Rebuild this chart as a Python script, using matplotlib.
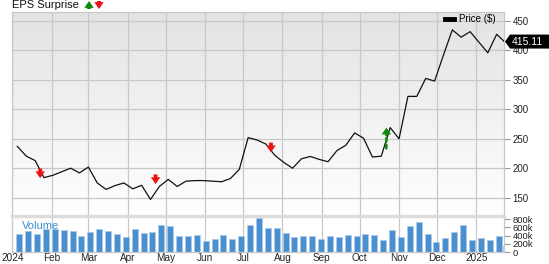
import matplotlib
matplotlib.use("Agg")
import matplotlib.pyplot as plt
import numpy as np
import pandas as pd
from matplotlib.lines import Line2D
from matplotlib.patches import Polygon
from matplotlib.colors import LinearSegmentedColormap

plt.rcParams["font.family"] = ["Liberation Sans", "DejaVu Sans"]

# ----- DATA -----
week_dates = list(pd.date_range("2024-01-05", periods=55, freq="7D")) + [pd.Timestamp("2025-01-23")]

price = [237, 220.5, 213, 184, 188, 194, 200, 192, 202, 175,
         164, 170.5, 175, 165, 171, 147, 169, 181, 169, 178,
         179, 179, 178, 177, 182.5, 198, 252, 248, 241, 222,
         210, 200, 216, 220, 215, 211, 230, 239, 260, 251,
         219, 220.5, 269, 250, 322, 322, 352.5, 348, 392, 435,
         422.5, 432, 414, 396, 427.5, 415.11]

volume_k = [438, 503, 438, 562, 550, 545, 503, 379, 495, 562,
            512, 430, 355, 553, 470, 479, 660, 635, 388, 388,
            413, 264, 314, 413, 314, 388, 660, 825, 594, 577,
            462, 371, 388, 388, 313, 388, 363, 404, 388, 437,
            421, 297, 545, 371, 627, 734, 437, 255, 346, 479,
            652, 297, 346, 297, 396, 148]

eps_dates = pd.to_datetime(["2024-01-23", "2024-04-23", "2024-07-23", "2024-10-22"])
eps_beat = [False, False, False, True]
eps_level = [183, 173, 227, 269]

month_ticks = pd.date_range("2024-01-01", "2025-01-01", freq="MS")
month_labels = ["2024", "Feb", "Mar", "Apr", "May", "Jun", "Jul",
                "Aug", "Sep", "Oct", "Nov", "Dec", "2025"]
price_ticks = [150, 200, 250, 300, 350, 400, 450]
vol_ticks = [0, 200, 400, 600, 800]
vol_labels = ["0", "200k", "400k", "600k", "800k"]
last_price = 415.11

# ----- FIGURE -----
W, H = 549, 264
fig = plt.figure(figsize=(W / 100, H / 100), dpi=100)
ax = fig.add_axes([12.3 / W, 1 - 215.5 / H, 492 / W, 203.2 / H])
axv = fig.add_axes([12.3 / W, 1 - 252 / H, 492 / W, 36.5 / H])

grid_c = "#c8c8c8"
xmin, xmax = pd.Timestamp("2024-01-01"), pd.Timestamp("2025-01-23")
arrow_style = "simple,head_length=0.55,head_width=0.75,tail_width=0.3"

# gradient background for the price panel
cmap = LinearSegmentedColormap.from_list("bg", ["#e3e3e3", "#ffffff"])
ax.imshow(np.linspace(0, 1, 256).reshape(-1, 1), cmap=cmap, extent=[0, 1, 0, 1],
          transform=ax.transAxes, aspect="auto", zorder=0)

ax.plot(week_dates, price, color="#111111", lw=0.9, zorder=3)

# eps surprise arrows
for d, beat, lvl in zip(eps_dates, eps_beat, eps_level):
    if beat:
        ax.annotate("", xy=(d, lvl), xytext=(0, -5), textcoords="offset points",
                    arrowprops=dict(arrowstyle=arrow_style, fc="#0a8a0a", ec="none",
                                    shrinkA=0, shrinkB=0, mutation_scale=9),
                    zorder=4)
        ax.annotate("", xy=(d, lvl), xytext=(0, -15), textcoords="offset points",
                    arrowprops=dict(arrowstyle="-", color="#0a8a0a", lw=1.8, ls=(0, (1.5, 1.2)),
                                    shrinkA=0, shrinkB=4), zorder=4)
    else:
        ax.annotate("", xy=(d, lvl), xytext=(0, 7), textcoords="offset points",
                    arrowprops=dict(arrowstyle=arrow_style, fc="#ee1111", ec="none",
                                    shrinkA=0, shrinkB=0, mutation_scale=9),
                    zorder=4)

ax.set_xlim(xmin, xmax)
ax.set_ylim(119.7, 464.8)
ax.set_xticks(month_ticks)
ax.set_yticks(price_ticks)
ax.grid(color=grid_c, lw=0.9)
ax.set_axisbelow(True)
ax.yaxis.tick_right()
ax.tick_params(axis="x", length=0, labelbottom=False)
ax.tick_params(axis="y", length=4, color="#999999", labelsize=7, pad=2, labelcolor="#222222")
for s in ax.spines.values():
    s.set_color(grid_c)
    s.set_linewidth(0.9)

h = Line2D([], [], color="black", lw=3.5)
ax.legend([h], ["Price ($)"], loc="upper right", bbox_to_anchor=(0.982, 0.99), frameon=False,
          fontsize=7, handlelength=0.9, handletextpad=0.5, borderaxespad=0, borderpad=0)

# ----- VOLUME PANEL -----
vol_dates = [d + pd.Timedelta(days=1.5) for d in week_dates]
axv.bar(vol_dates, [v * 1000 for v in volume_k], width=4.7, color="#4a8fd0",
        edgecolor="#a9c9ea", lw=0.5, zorder=2)
axv.set_xlim(xmin, xmax)
axv.set_ylim(0, 890000)
axv.set_xticks(month_ticks)
axv.set_xticklabels(month_labels)
axv.set_yticks([v * 1000 for v in vol_ticks])
axv.set_yticklabels(vol_labels)
axv.yaxis.tick_right()
axv.grid(axis="x", color=grid_c, lw=0.9)
axv.set_axisbelow(True)
axv.tick_params(axis="x", length=0, labelsize=7.2, pad=1, labelcolor="#222222")
axv.tick_params(axis="y", length=4, color="#999999", labelsize=6.8, pad=2, labelcolor="#222222")
for s in axv.spines.values():
    s.set_color(grid_c)
    s.set_linewidth(0.9)
axv.spines["top"].set_color("#dcdcdc")
axv.spines["top"].set_linewidth(2.5)
axv.text(0.02, 0.7, "Volume", transform=axv.transAxes, color="#3d8fd6", fontsize=8,
         va="center", ha="left", zorder=5)

# ----- LAST PRICE TAG -----
y_pix = ax.transData.transform((0, last_price))[1]
tag = [(505, y_pix), (510, y_pix + 7), (552, y_pix + 7), (552, y_pix - 7), (510, y_pix - 7)]
fig.patches.append(Polygon([(x / W, y / H) for x, y in tag], closed=True, fc="black", ec="none",
                           transform=fig.transFigure, figure=fig, zorder=10))
fig.text(512 / W, y_pix / H, f"{last_price:.2f}", color="white", fontsize=7.5,
         va="center", ha="left", zorder=11)

# ----- TITLE -----
fig.text(12 / W, 1 - 5 / H, "EPS Surprise", fontsize=8, va="center", ha="left", color="#111111")
fig.add_artist(matplotlib.text.Annotation(
    "", xy=(89 / W, 1 - 1 / H), xytext=(89 / W, 1 - 9 / H), xycoords="figure fraction",
    arrowprops=dict(arrowstyle=arrow_style, fc="#0a8a0a", ec="none",
                    shrinkA=0, shrinkB=0, mutation_scale=9)))
fig.add_artist(matplotlib.text.Annotation(
    "", xy=(99 / W, 1 - 9 / H), xytext=(99 / W, 1 - 1 / H), xycoords="figure fraction",
    arrowprops=dict(arrowstyle=arrow_style, fc="#ee1111", ec="none",
                    shrinkA=0, shrinkB=0, mutation_scale=9)))

fig.savefig("out.png", dpi=100)
